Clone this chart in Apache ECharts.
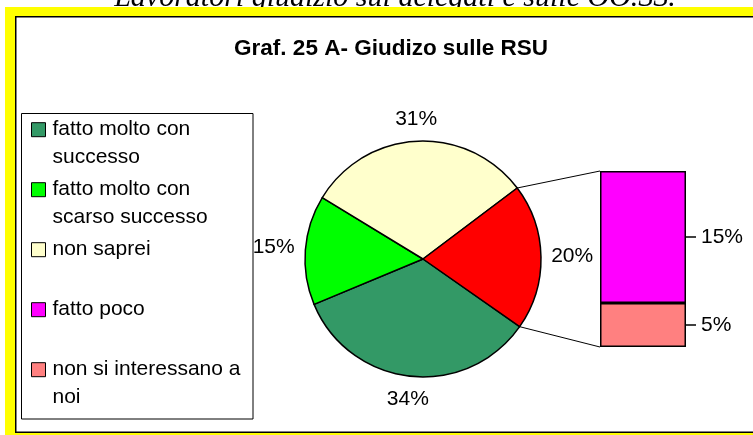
<!DOCTYPE html>
<html>
<head>
<meta charset="utf-8">
<script src="https://cdn.jsdelivr.net/npm/echarts@6/dist/echarts.min.js"></script>
<style>
  html, body { margin: 0; padding: 0; background: #fff; }
  #chart { width: 753px; height: 435px; }
</style>
</head>
<body>
<div id="chart"></div>
<script>
// data
const pieNames = ['fatto molto con successo', 'fatto molto con scarso successo', 'non saprei']
const pieValues = [34, 15, 31]
const barNames = ['fatto poco', 'non si interessano a noi']
const barValues = [15, 5]
const otherName = 'altro'

const pieColors = ['#339966', '#00ff00', '#ffffcc', '#ff0000']
const barColors = ['#ff00ff', '#ff8080']

// layout
const pieCenter = [423, 259]
const pieRadius = 118
const startAngle = -35
const barGrid = { left: 600, top: 171, width: 86, height: 176 }
const font = 'Liberation Sans, Arial, sans-serif'
const legendTextWidth = 196

const otherValue = barValues.reduce((a, b) => a + b, 0)
const allPie = pieValues.concat([otherValue])
const total = allPie.reduce((a, b) => a + b, 0)

// mid angle of each slice, degrees counter-clockwise from 3 o'clock
const midAngles = []
let acc = startAngle
allPie.forEach(v => {
  const span = v / total * 360
  midAngles.push(acc - span / 2)
  acc -= span
})

const pieData = allPie.map((v, i) => ({
  name: i < pieNames.length ? pieNames[i] : otherName,
  value: v,
  itemStyle: { color: pieColors[i] }
}))

// wrap legend names like Excel does; a leading blank line keeps the
// square beside the first line (echarts centres the icon on the text)
const ctx = document.createElement('canvas').getContext('2d')
ctx.font = '21px "Liberation Sans", Arial, sans-serif'
function wrapName(name) {
  const lines = []
  let line = ''
  name.split(' ').forEach(w => {
    const t = line ? line + ' ' + w : w
    if (line && ctx.measureText(t).width > legendTextWidth) {
      lines.push(line)
      line = w
    } else {
      line = t
    }
  })
  lines.push(line)
  return lines.length > 1 ? '\n' + lines.join('\n') : lines[0]
}

const barLabel = {
  show: true,
  position: 'right',
  distance: 0,
  formatter: '{t| }{v|{c}%}',
  rich: {
    t: { width: 10, height: 1.5, backgroundColor: '#000' },
    v: { fontSize: 21, color: '#000', fontFamily: font, padding: [0, 0, 0, 5] }
  }
}

const chart = echarts.init(document.getElementById('chart'))
chart.setOption({
  animation: false,
  textStyle: { fontFamily: font },
  title: {
    text: 'Graf. 25 A- Giudizo sulle RSU',
    left: 391,
    top: 37,
    padding: 0,
    textAlign: 'center',
    textStyle: { fontSize: 22.5, fontWeight: 'bold', color: '#000', fontFamily: font }
  },
  legend: {
    orient: 'vertical',
    left: 31,
    top: 87.7,
    padding: 0,
    itemWidth: 14,
    itemHeight: 14,
    itemGap: -24,
    icon: 'rect',
    selectedMode: false,
    data: pieNames.concat(barNames),
    formatter: wrapName,
    itemStyle: { borderColor: '#000', borderWidth: 1 },
    textStyle: {
      fontSize: 21,
      color: '#000',
      lineHeight: 28,
      height: 84,
      padding: [0, 0, 0, 2]
    }
  },
  graphic: [
    {
      type: 'text', z: 0,
      style: {
        text: 'Lavoratori giudizio sui delegati e sulle OO.SS.',
        x: 395, y: 13, align: 'center', verticalAlign: 'bottom',
        font: 'italic 30px "Liberation Serif", "Times New Roman", serif', fill: '#000'
      }
    },
    { type: 'rect', z: 0, shape: { x: 5, y: 7, width: 748, height: 428 }, style: { fill: '#ffff00' } },
    {
      type: 'rect', z: 0,
      shape: { x: 15.75, y: 16.75, width: 800, height: 415.5 },
      style: { fill: '#fff', stroke: '#000', lineWidth: 1.5 }
    },
    {
      type: 'rect', z: 0,
      shape: { x: 21.5, y: 113.5, width: 231.5, height: 305.5 },
      style: { fill: 'none', stroke: '#000', lineWidth: 1 }
    }
  ],
  grid: barGrid,
  xAxis: { type: 'category', data: [otherName], show: false },
  yAxis: { type: 'value', min: 0, max: otherValue, show: false },
  series: [
    {
      type: 'pie',
      center: pieCenter,
      radius: pieRadius,
      startAngle: startAngle,
      clockwise: true,
      avoidLabelOverlap: false,
      silent: true,
      data: pieData,
      itemStyle: { borderColor: '#000', borderWidth: 1.5 },
      label: {
        show: true,
        position: 'outside',
        fontSize: 21,
        color: '#000',
        formatter: p => Math.round(p.percent) + '%'
      },
      labelLine: { show: false },
      labelLayout: function (params) {
        const a = midAngles[params.dataIndex] * Math.PI / 180
        const c = Math.cos(a)
        const s = Math.sin(a)
        const w = params.labelRect.width
        const h = params.labelRect.height
        const d = pieRadius + 10 + Math.abs(c) * w / 2 + Math.abs(s) * h / 2
        return {
          x: pieCenter[0] + d * c,
          y: pieCenter[1] - d * s,
          align: 'center',
          verticalAlign: 'middle'
        }
      }
    },
    {
      type: 'bar',
      name: barNames[1],
      stack: otherName,
      barWidth: '100%',
      silent: true,
      data: [barValues[1]],
      itemStyle: { color: barColors[1], borderColor: '#000', borderWidth: 1.5 },
      label: barLabel
    },
    {
      type: 'bar',
      name: barNames[0],
      stack: otherName,
      barWidth: '100%',
      silent: true,
      data: [barValues[0]],
      itemStyle: { color: barColors[0], borderColor: '#000', borderWidth: 1.5 },
      label: barLabel
    }
  ]
})

// connector lines from the red slice to the stacked bar
const yTop = chart.convertToPixel({ yAxisIndex: 0 }, otherValue)
const yBottom = chart.convertToPixel({ yAxisIndex: 0 }, 0)
const upper = (startAngle + otherValue / total * 360) * Math.PI / 180
const lower = startAngle * Math.PI / 180
const edge = a => [pieCenter[0] + pieRadius * Math.cos(a), pieCenter[1] - pieRadius * Math.sin(a)]
const p1 = edge(upper)
const p2 = edge(lower)
chart.setOption({
  graphic: [
    { id: 'link1', type: 'line', z: 10, shape: { x1: p1[0], y1: p1[1], x2: barGrid.left, y2: yTop }, style: { stroke: '#000', lineWidth: 1 } },
    { id: 'link2', type: 'line', z: 10, shape: { x1: p2[0], y1: p2[1], x2: barGrid.left, y2: yBottom }, style: { stroke: '#000', lineWidth: 1 } }
  ]
})
</script>
</body>
</html>
